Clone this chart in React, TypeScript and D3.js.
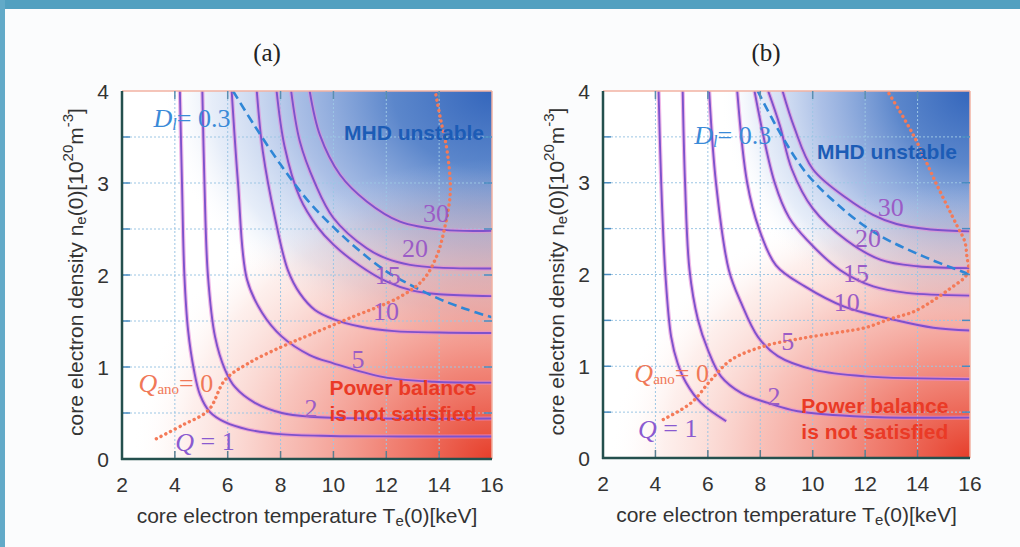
import React from 'react';
import * as d3 from 'd3';

// axis ticks
const tempTicks = [2, 4, 6, 8, 10, 12, 14, 16];
const densTicks = [0, 1, 2, 3, 4];
const densMinor = [0.5, 1, 1.5, 2, 2.5, 3, 3.5];
const qLevels = ['1', '2', '5', '10', '15', '20', '30'];

// (a) fusion gain contours, points [Te(0) keV, ne(0) 1e20 m^-3]
const qa1 = [[4.19, 4.0], [4.27, 3.0], [4.36, 2.0], [4.5, 1.4], [4.72, 0.97], [4.95, 0.7], [5.33, 0.51], [5.9, 0.4], [6.77, 0.32], [7.98, 0.27], [9.9, 0.25], [12.5, 0.245], [16, 0.245]];
const qa2 = [[5.04, 4.0], [5.12, 3.0], [5.25, 2.0], [5.52, 1.33], [5.9, 0.97], [6.28, 0.78], [7.03, 0.61], [8.05, 0.5], [9.1, 0.46], [11.8, 0.44], [16, 0.44]];
const qa5 = [[6.15, 4.0], [6.39, 3.0], [6.73, 1.95], [7.3, 1.59], [8.05, 1.33], [9.1, 1.13], [10.0, 1.04], [11.9, 0.89], [13.8, 0.84], [16, 0.83]];
const qa10 = [[7.1, 4.0], [7.33, 3.34], [7.79, 2.62], [8.28, 2.05], [8.73, 1.8], [9.3, 1.62], [10.0, 1.52], [11.0, 1.44], [12.3, 1.39], [14.0, 1.375], [16, 1.37]];
const qa15 = [[7.85, 4.0], [8.15, 3.4], [8.73, 2.84], [9.4, 2.52], [10.0, 2.33], [11.0, 2.1], [12.0, 1.93], [13.0, 1.83], [14.0, 1.79], [16, 1.77]];
const qa20 = [[8.4, 4.0], [8.73, 3.45], [9.3, 3.0], [10.0, 2.62], [11.26, 2.29], [12.0, 2.18], [12.9, 2.11], [14.0, 2.08], [16, 2.07]];
const qa30 = [[9.1, 4.0], [9.49, 3.52], [10.25, 3.09], [11.26, 2.8], [12.52, 2.58], [14.16, 2.49], [16, 2.48]];
const dlA = [[6.2, 4.0], [7.0, 3.63], [8.0, 3.2], [9.0, 2.82], [10.0, 2.52], [11.0, 2.26], [12.0, 2.04], [13.0, 1.88], [14.0, 1.74], [15.0, 1.63], [16.0, 1.54]];
const qanoA = [[3.3, 0.22], [4.3, 0.37], [5.27, 0.53], [5.9, 0.86], [6.78, 1.04], [8.04, 1.22], [9.11, 1.35], [10.6, 1.53], [12.5, 1.76], [13.4, 1.95], [13.9, 2.2], [14.2, 2.5], [14.42, 2.9], [14.3, 3.35], [14.05, 3.7], [13.85, 4.0]];

// (b)
const qb1 = [[4.12, 4.0], [4.22, 3.0], [4.38, 2.0], [4.6, 1.32], [4.85, 1.03], [5.17, 0.82], [5.74, 0.6], [6.7, 0.4]];
const qb2 = [[5.04, 4.0], [5.13, 3.0], [5.3, 2.05], [5.62, 1.51], [6.0, 1.18], [6.5, 0.89], [7.27, 0.71], [8.29, 0.6], [9.43, 0.51], [12.0, 0.45], [16, 0.44]];
const qb5 = [[6.05, 4.0], [6.31, 3.0], [6.8, 2.05], [7.27, 1.69], [7.91, 1.32], [8.67, 1.11], [10.07, 0.96], [12.0, 0.89], [16, 0.86]];
const qb10 = [[7.12, 4.0], [7.5, 3.0], [7.95, 2.5], [8.6, 2.1], [9.7, 1.87], [11.2, 1.65], [13.2, 1.5], [14.6, 1.42], [16, 1.39]];
const qb15 = [[7.78, 4.0], [8.55, 3.0], [9.1, 2.62], [9.77, 2.38], [11.04, 2.05], [12.31, 1.87], [13.58, 1.8], [16, 1.77]];
const qb20 = [[8.3, 4.0], [8.75, 3.62], [9.2, 3.15], [10.0, 2.72], [11.3, 2.37], [12.6, 2.16], [14.0, 2.09], [16, 2.07]];
const qb30 = [[8.85, 4.0], [9.3, 3.6], [10.0, 3.15], [11.3, 2.83], [12.3, 2.65], [13.2, 2.55], [14.5, 2.49], [16, 2.47]];
const dlB = [[7.9, 4.0], [8.8, 3.52], [9.77, 3.1], [11.04, 2.74], [12.4, 2.45], [14.2, 2.2], [16, 2.0]];
const qanoB = [[4.3, 0.42], [5.36, 0.6], [6.12, 0.85], [6.89, 1.07], [8.16, 1.22], [9.5, 1.3], [11.0, 1.37], [12.0, 1.42], [13.0, 1.52], [13.89, 1.6], [15.16, 1.83], [15.92, 2.02], [15.88, 2.2], [15.8, 2.36], [15.49, 2.54], [14.73, 2.98], [13.84, 3.52], [12.85, 4.0]];

const SANS = 'Liberation Sans, Arial, sans-serif';
const SERIF = 'Liberation Serif, Times New Roman, serif';

const panels = [
  {
    id: 'a', tag: '(a)', tagX: 267, left: 122, right: 492, top: 91, bottom: 459, ytitleX: 75,
    contours: [qa1, qa2, qa5, qa10, qa15, qa20, qa30], dl: dlA, qano: qanoA,
    // shading ellipses (px radii) around the top-right / bottom-right corners
    blueR: [330, 260], redR: [360, 300],
    // label anchors in data units for 2,5,10,15,20,30
    lvl: [[9.15, 0.55], [10.93, 1.08], [11.99, 1.6], [12.06, 1.99], [13.09, 2.29], [13.88, 2.67]],
    q1: [5.14, 0.185], dlLab: [4.65, 3.71], qanoLab: [4.04, 0.83],
    mhd: [13.05, 3.55], power: [12.63, 0.78], notSat: [12.63, 0.5],
  },
  {
    id: 'b', tag: '(b)', tagX: 766, left: 603, right: 970, top: 91, bottom: 458, ytitleX: 556,
    contours: [qb1, qb2, qb5, qb10, qb15, qb20, qb30], dl: dlB, qano: qanoB,
    blueR: [250, 240], redR: [360, 275],
    lvl: [[8.52, 0.67], [9.05, 1.27], [11.3, 1.7], [11.65, 2.01], [12.11, 2.39], [12.98, 2.73]],
    q1: [4.47, 0.32], dlLab: [6.95, 3.52], qanoLab: [4.62, 0.93],
    mhd: [12.83, 3.34], power: [12.37, 0.57], notSat: [12.37, 0.29],
  },
];

function Panel({ p }: { p: any }) {
  const x = d3.scaleLinear().domain([tempTicks[0], tempTicks[tempTicks.length - 1]]).range([p.left, p.right]);
  const y = d3.scaleLinear().domain([densTicks[0], densTicks[densTicks.length - 1]]).range([p.bottom, p.top]);
  const line = d3.line<number[]>().x(d => x(d[0])).y(d => y(d[1])).curve(d3.curveCatmullRom.alpha(0.5));
  const w = p.right - p.left;
  const h = p.bottom - p.top;
  const clip = `clip-${p.id}`;

  return (
    <g>
      <defs>
        <clipPath id={clip}>
          <rect x={p.left} y={p.top} width={w} height={h} />
        </clipPath>
        <radialGradient id={`blue-${p.id}`} gradientUnits="userSpaceOnUse" cx={0} cy={0} r={1} fx={0} fy={0}
          gradientTransform={`translate(${p.right},${p.top}) scale(${p.blueR[0]},${p.blueR[1]})`}>
          <stop offset="0" stopColor="#3466bc" stopOpacity={1} />
          <stop offset="0.3" stopColor="#4576c4" stopOpacity={0.88} />
          <stop offset="0.6" stopColor="#6f92d4" stopOpacity={0.58} />
          <stop offset="0.85" stopColor="#a6bfe8" stopOpacity={0.28} />
          <stop offset="1" stopColor="#ffffff" stopOpacity={0} />
        </radialGradient>
        <radialGradient id={`red-${p.id}`} gradientUnits="userSpaceOnUse" cx={0} cy={0} r={1} fx={0} fy={0}
          gradientTransform={`translate(${p.right},${p.bottom}) scale(${p.redR[0]},${p.redR[1]})`}>
          <stop offset="0" stopColor="#e63e2a" stopOpacity={1} />
          <stop offset="0.3" stopColor="#ec5a48" stopOpacity={0.74} />
          <stop offset="0.6" stopColor="#f07e6e" stopOpacity={0.46} />
          <stop offset="0.85" stopColor="#f6a898" stopOpacity={0.18} />
          <stop offset="1" stopColor="#ffffff" stopOpacity={0} />
        </radialGradient>
      </defs>

      <text x={p.tagX} y={52} fontFamily={SERIF} fontSize={25} textAnchor="middle" dominantBaseline="central" fill="#222">{p.tag}</text>

      {/* background field */}
      <rect x={p.left} y={p.top} width={w} height={h} fill="#ffffff" />
      <rect x={p.left} y={p.top} width={w} height={h} fill={`url(#blue-${p.id})`} />
      <rect x={p.left} y={p.top} width={w} height={h} fill={`url(#red-${p.id})`} />

      {/* grid */}
      {tempTicks.slice(1, -1).map(t => (
        <line key={'gx' + t} x1={x(t)} x2={x(t)} y1={p.top} y2={p.bottom} stroke="#9cc6e4" strokeWidth={1} strokeDasharray="2 2" />
      ))}
      {densMinor.map(t => (
        <line key={'gy' + t} x1={p.left} x2={p.right} y1={y(t)} y2={y(t)} stroke="#9cc6e4" strokeWidth={1} strokeDasharray="2 2" />
      ))}

      <g clipPath={`url(#${clip})`}>
        {p.contours.map((c: number[][], i: number) => (
          <g key={'q' + qLevels[i]}>
            <path d={line(c) || ''} fill="none" stroke="#e48ad8" strokeOpacity={0.6} strokeWidth={4.2} />
            <path d={line(c) || ''} fill="none" stroke="#7d52cc" strokeWidth={1.9} />
          </g>
        ))}
        <path d={line(p.dl) || ''} fill="none" stroke="#2f86d6" strokeWidth={2.6} strokeDasharray="9 5" />
        <path d={line(p.qano) || ''} fill="none" stroke="#f47a58" strokeWidth={3.4} strokeDasharray="0.1 5.2" strokeLinecap="round" />
      </g>

      {/* contour level labels */}
      {p.lvl.map((d: number[], i: number) => (
        <text key={'l' + i} x={x(d[0])} y={y(d[1])} fontFamily={SERIF} fontSize={26} textAnchor="middle"
          dominantBaseline="central" fill="#9b5cc6">{qLevels[i + 1]}</text>
      ))}
      <text x={x(p.q1[0])} y={y(p.q1[1])} fontFamily={SERIF} fontSize={26} textAnchor="middle" dominantBaseline="central" fill="#8a5ad0">
        <tspan fontStyle="italic">Q</tspan> = 1
      </text>
      <text x={x(p.dlLab[0])} y={y(p.dlLab[1])} fontFamily={SERIF} fontSize={26} textAnchor="middle" dominantBaseline="central" fill="#3a8ad8">
        <tspan fontStyle="italic">D</tspan>
        <tspan fontStyle="italic" fontSize={16} dy={6}>l</tspan>
        <tspan dy={-6}>= 0.3</tspan>
      </text>
      <text x={x(p.qanoLab[0])} y={y(p.qanoLab[1])} fontFamily={SERIF} fontSize={26} textAnchor="middle" dominantBaseline="central" fill="#f07858">
        <tspan fontStyle="italic">Q</tspan>
        <tspan fontSize={15} dy={6}>ano</tspan>
        <tspan dy={-6}>= 0</tspan>
      </text>
      <text x={x(p.mhd[0])} y={y(p.mhd[1])} fontFamily={SANS} fontWeight="bold" fontSize={21} textAnchor="middle" dominantBaseline="central" fill="#1c5cb6">MHD unstable</text>
      <text x={x(p.power[0])} y={y(p.power[1])} fontFamily={SANS} fontWeight="bold" fontSize={21} textAnchor="middle" dominantBaseline="central" fill="#ea3a26">Power balance</text>
      <text x={x(p.notSat[0])} y={y(p.notSat[1])} fontFamily={SANS} fontWeight="bold" fontSize={21} textAnchor="middle" dominantBaseline="central" fill="#ea3a26">is not satisfied</text>

      {/* frame */}
      <line x1={p.left} x2={p.right} y1={p.top} y2={p.top} stroke="#f2b2a2" strokeWidth={1.5} />
      <line x1={p.right} x2={p.right} y1={p.top} y2={p.bottom} stroke="#f2b2a2" strokeWidth={1.5} />
      {tempTicks.slice(1, -1).map(t => (
        <g key={'tx' + t}>
          <line x1={x(t)} x2={x(t)} y1={p.bottom} y2={p.bottom - 8} stroke="#5b7f90" strokeWidth={1.5} />
          <line x1={x(t)} x2={x(t)} y1={p.top} y2={p.top + 8} stroke="#5b8fb0" strokeWidth={1.5} />
        </g>
      ))}
      {densMinor.map(t => (
        <g key={'ty' + t}>
          <line x1={p.left} x2={p.left + 8} y1={y(t)} y2={y(t)} stroke="#4a8cc0" strokeWidth={1.5} />
          <line x1={p.right} x2={p.right - 8} y1={y(t)} y2={y(t)} stroke="#4a8cc0" strokeWidth={1.5} />
        </g>
      ))}
      <line x1={p.left} x2={p.left} y1={p.top} y2={p.bottom + 1} stroke="#24504e" strokeWidth={2.5} />
      <line x1={p.left - 1} x2={p.right} y1={p.bottom} y2={p.bottom} stroke="#24504e" strokeWidth={2.5} />

      {/* tick labels */}
      {tempTicks.map(t => (
        <text key={'xl' + t} x={x(t)} y={p.bottom + 25} fontFamily={SANS} fontSize={21} textAnchor="middle" dominantBaseline="central" fill="#333">{t}</text>
      ))}
      {densTicks.map(t => (
        <text key={'yl' + t} x={p.left - 19} y={y(t)} fontFamily={SANS} fontSize={21} textAnchor="middle" dominantBaseline="central" fill="#333">{t}</text>
      ))}

      {/* axis titles */}
      <text x={(p.left + p.right) / 2} y={p.bottom + 56} fontFamily={SANS} fontSize={21} textAnchor="middle" dominantBaseline="central" fill="#333">
        core electron temperature T<tspan fontSize={15} dy={5}>e</tspan><tspan dy={-5}>(0)[keV]</tspan>
      </text>
      <text transform={`translate(${p.ytitleX},${(p.top + p.bottom) / 2 - 3}) rotate(-90)`} fontFamily={SANS} fontSize={21}
        textAnchor="middle" dominantBaseline="central" fill="#333">
        core electron density n<tspan fontSize={15} dy={5}>e</tspan><tspan dy={-5}>(0)[10</tspan>
        <tspan fontSize={15} dy={-8}>20</tspan><tspan dy={8}>m</tspan><tspan fontSize={15} dy={-8}>-3</tspan><tspan dy={8}>]</tspan>
      </text>
    </g>
  );
}

export default function App() {
  return (
    <div style={{ position: 'absolute', left: 0, top: 0 }}>
      <svg width={1020} height={547} style={{ display: 'block' }}>
        <rect width={1020} height={547} fill="#fbfcfd" />
        <rect width={1020} height={9} fill="#52a0c0" />
        <rect width={5} height={547} fill="#62aac8" />
        {panels.map(p => <Panel key={p.id} p={p} />)}
      </svg>
    </div>
  );
}
